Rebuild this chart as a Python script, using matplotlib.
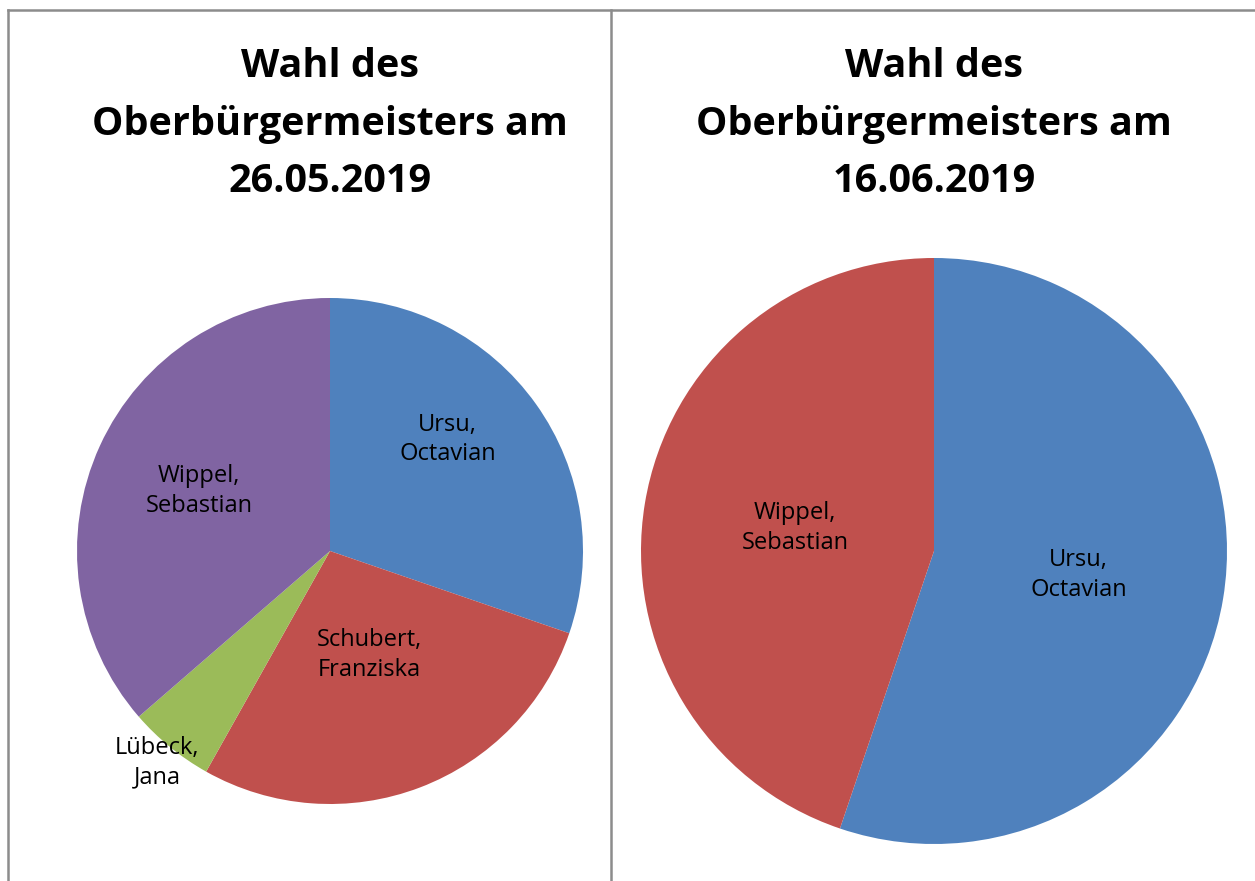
import numpy as np
import matplotlib
matplotlib.use("Agg")
import matplotlib.pyplot as plt
from matplotlib.lines import Line2D

# ---------------------------------------------------------------------------
# Data
# ---------------------------------------------------------------------------
title_1 = "Wahl des\nOberbürgermeisters am\n26.05.2019"
names_1 = ["Ursu,\nOctavian", "Schubert,\nFranziska", "Lübeck,\nJana", "Wippel,\nSebastian"]
shares_1 = [30.3, 27.9, 5.5, 36.4]

title_2 = "Wahl des\nOberbürgermeisters am\n16.06.2019"
names_2 = ["Ursu,\nOctavian", "Wippel,\nSebastian"]
shares_2 = [55.2, 44.8]

# ---------------------------------------------------------------------------
# Style
# ---------------------------------------------------------------------------
W, H = 1255, 881
BLUE, RED, GREEN, PURPLE = "#4F81BD", "#C0504D", "#9BBB59", "#8064A2"
colors_1 = [BLUE, RED, GREEN, PURPLE]
colors_2 = [BLUE, RED]
# label placement: fraction of radius, angle offset from wedge middle (deg)
label_r_1 = [0.64, 0.44, 1.08, 0.57]
label_da_1 = [8, 0, 0, 0]
label_r_2 = [0.5, 0.48]
label_da_2 = [0, 0]
FONT = ["Open Sans", "DejaVu Sans"]


def pie_axes(fig, cx, cy, r):
    # pie placed by its pixel centre and radius
    ax = fig.add_axes([(cx - r) / W, (H - cy - r) / H, 2 * r / W, 2 * r / H])
    ax.axis("off")
    return ax


def draw_pie(ax, shares, colors, names, label_r, label_da):
    wedges, _ = ax.pie(shares, colors=colors, startangle=90, counterclock=False,
                       radius=1, wedgeprops={"linewidth": 0})
    for w, name, lr, da in zip(wedges, names, label_r, label_da):
        mid = np.deg2rad((w.theta1 + w.theta2) / 2 + da)
        ax.text(lr * np.cos(mid), lr * np.sin(mid), name, ha="center",
                va="center", fontsize=17, family=FONT, linespacing=1.3)
    ax.set_xlim(-1, 1)
    ax.set_ylim(-1, 1)


fig = plt.figure(figsize=(W / 100, H / 100), dpi=100)

ax1 = pie_axes(fig, 330, 551, 253)
draw_pie(ax1, shares_1, colors_1, names_1, label_r_1, label_da_1)
ax2 = pie_axes(fig, 934, 551, 293)
draw_pie(ax2, shares_2, colors_2, names_2, label_r_2, label_da_2)

for cx, title in [(330, title_1), (934, title_2)]:
    fig.text(cx / W, 1 - 47 / H, title, ha="center", va="top", fontsize=28.5,
             fontweight="bold", family=FONT, linespacing=1.62)

# panel borders
border = dict(color="#8c8c8c", lw=1.8, transform=fig.transFigure)
fig.add_artist(Line2D([8 / W, 1], [1 - 10 / H] * 2, **border))
fig.add_artist(Line2D([8 / W] * 2, [0, 1 - 10 / H], **border))
fig.add_artist(Line2D([611 / W] * 2, [0, 1 - 10 / H], **border))

fig.savefig("out.png", dpi=100)
plt.close(fig)
